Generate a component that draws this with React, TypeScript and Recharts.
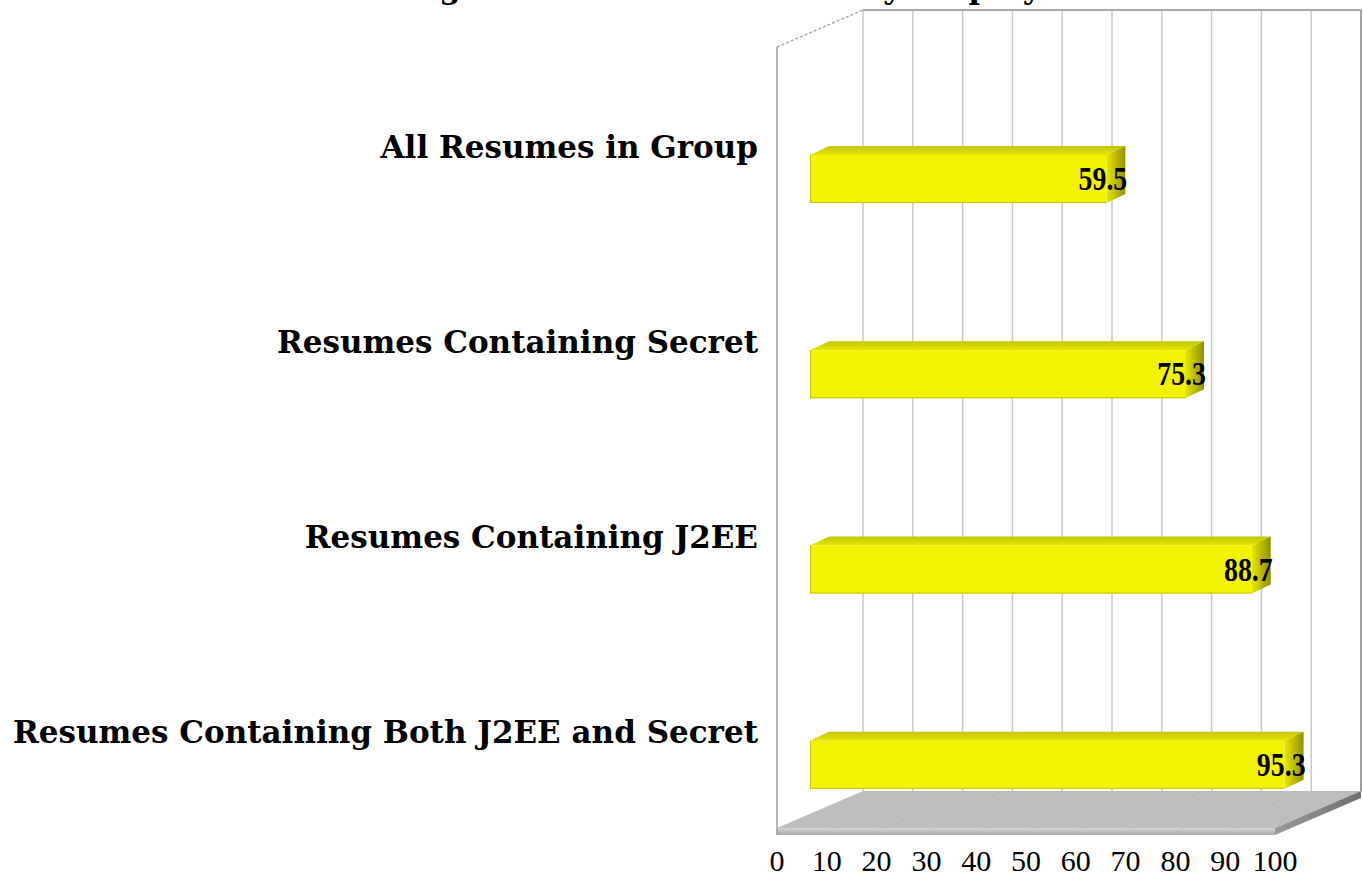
import React from 'react';
import { BarChart, Bar, XAxis, YAxis, CartesianGrid, ReferenceArea, LabelList } from 'recharts';

const title = 'Percentage of Resumes Selected by Employer';
const categories = [
  'All Resumes in Group',
  'Resumes Containing Secret',
  'Resumes Containing J2EE',
  'Resumes Containing Both J2EE and Secret',
];
const values = [59.5, 75.3, 88.7, 95.3];
const xTicks = [0, 10, 20, 30, 40, 50, 60, 70, 80, 90, 100];

const data = categories.map((name, i) => ({ name, value: values[i] }));

// 3D projection offsets (style only)
const DX = 86;
const DY = -37;
const BAR_OX = 33;
const BAR_OY = 34;
const BDX = 19;
const BDY = -9;

const SERIF = "'DejaVu Serif', 'Liberation Serif', serif";
const TIMES = "'Liberation Serif', 'DejaVu Serif', serif";

const Bar3D = (props: any) => {
  const { x, y, width, height } = props;
  if (width == null || width <= 0) return null;
  const fx = x + BAR_OX;
  const fy = y + BAR_OY;
  const w = width;
  const h = height;
  const top = `${fx},${fy} ${fx + BDX},${fy + BDY} ${fx + w + BDX},${fy + BDY} ${fx + w},${fy}`;
  const side = `${fx + w},${fy} ${fx + w + BDX},${fy + BDY} ${fx + w + BDX},${fy + h + BDY} ${fx + w},${fy + h}`;
  return (
    <g>
      <polygon points={top} fill="url(#barTop)" />
      <polygon points={side} fill="url(#barSide)" />
      <rect x={fx} y={fy} width={w} height={h} fill="#f3f300" />
      <line x1={fx + 0.5} y1={fy} x2={fx + 0.5} y2={fy + h} stroke="#c8c800" strokeWidth={1} />
      <line x1={fx} y1={fy + h - 0.5} x2={fx + w} y2={fy + h - 0.5} stroke="#c2c200" strokeWidth={1} />
    </g>
  );
};

const ValueLabel = (props: any) => {
  const { x, y, width, height, value } = props;
  const tx = x + BAR_OX + width + BDX + 2;
  const ty = y + BAR_OY + height / 2 + 11;
  return (
    <text
      transform={`translate(${tx},${ty}) scale(0.82,1)`}
      x={0}
      y={0}
      textAnchor="end"
      fontFamily={TIMES}
      fontWeight="bold"
      fontSize={34}
      fill="#000"
    >
      {value}
    </text>
  );
};

const CatTick = (props: any) => {
  const { x, y, payload } = props;
  return (
    <text
      x={x}
      y={y + 13}
      textAnchor="end"
      fontFamily={SERIF}
      fontWeight="bold"
      fontSize={31}
      fill="#000"
    >
      {payload.value}
    </text>
  );
};

const NumTick = (props: any) => {
  const { x, y, payload } = props;
  return (
    <text
      x={x}
      y={y + 43}
      textAnchor="middle"
      fontFamily={TIMES}
      fontSize={30}
      fill="#000"
    >
      {payload.value}
    </text>
  );
};

const GridLine = (props: any) => {
  const { x1, y1, x2, y2 } = props;
  return (
    <line x1={x1 + DX} y1={y1 + DY} x2={x2 + DX} y2={y2 + DY} stroke="#c8c8c8" strokeWidth={1.5} />
  );
};

const Frame = (props: any) => {
  const { x, y, width, height } = props;
  const bx = x + DX;
  const by = y + DY;
  const fb = y + height; // front bottom
  const t = 7; // floor thickness
  return (
    <g>
      {/* floor top */}
      <polygon
        points={`${x},${fb} ${x + width},${fb} ${x + width + DX},${fb + DY} ${bx},${fb + DY}`}
        fill="#bdbdbd"
      />
      {xTicks.slice(1, -1).map((tk) => {
        const px = x + (tk / 100) * width;
        return (
          <line
            key={tk}
            x1={px}
            y1={fb}
            x2={px + DX}
            y2={fb + DY}
            stroke="#c9c9c9"
            strokeWidth={1}
            strokeDasharray="4 3"
          />
        );
      })}
      {/* floor front thickness */}
      <rect x={x} y={fb} width={width} height={t} fill="url(#floorFront)" />
      {/* floor right thickness */}
      <polygon
        points={`${x + width},${fb} ${x + width + DX},${fb + DY} ${x + width + DX},${fb + DY + t} ${x + width},${fb + t}`}
        fill="url(#floorSide)"
      />
      {/* left front edge */}
      <line x1={x} y1={y} x2={x} y2={fb + t} stroke="#9a9a9a" strokeWidth={1.5} />
      {/* top-left dashed diagonal */}
      <line x1={x} y1={y} x2={bx} y2={by} stroke="#a8a8a8" strokeWidth={1.5} strokeDasharray="3 2" />
      {/* back wall top */}
      <line x1={bx} y1={by} x2={bx + width} y2={by} stroke="#a8a8a8" strokeWidth={2} />
      {/* back wall right edge */}
      <line x1={bx + width} y1={by} x2={bx + width} y2={fb + DY} stroke="#a0a0a0" strokeWidth={2} />
    </g>
  );
};

export default function App() {
  return (
    <div style={{ position: 'absolute', left: 0, top: 0, width: 1363, height: 878, background: '#fff' }}>
      <BarChart
        width={1363}
        height={878}
        data={data}
        layout="vertical"
        margin={{ top: 47, right: 88, bottom: 0, left: 0 }}
        barSize={48}
      >
        <defs>
          <linearGradient id="barTop" x1="0" y1="0" x2="0" y2="1">
            <stop offset="0%" stopColor="#c4c400" />
            <stop offset="100%" stopColor="#e6e600" />
          </linearGradient>
          <linearGradient id="barSide" x1="0" y1="0" x2="1" y2="0">
            <stop offset="0%" stopColor="#e8e800" />
            <stop offset="100%" stopColor="#8f8f00" />
          </linearGradient>
          <linearGradient id="floorFront" x1="0" y1="0" x2="0" y2="1">
            <stop offset="0%" stopColor="#d4d4d4" />
            <stop offset="100%" stopColor="#a8a8a8" />
          </linearGradient>
          <linearGradient id="floorSide" x1="0" y1="0" x2="1" y2="0">
            <stop offset="0%" stopColor="#9a9a9a" />
            <stop offset="100%" stopColor="#6e6e6e" />
          </linearGradient>
        </defs>
        <text
          x={681}
          y={-2}
          textAnchor="middle"
          fontFamily={SERIF}
          fontWeight="bold"
          fontSize={31}
          fill="#000"
        >
          {title}
        </text>
        <ReferenceArea x1={0} x2={100} shape={Frame} ifOverflow="visible" />
        <CartesianGrid horizontal={false} vertical={GridLine} />
        <XAxis
          type="number"
          domain={[0, 100]}
          ticks={xTicks}
          interval={0}
          height={50}
          axisLine={false}
          tickLine={false}
          tickSize={0}
          tickMargin={0}
          tick={NumTick}
        />
        <YAxis
          type="category"
          dataKey="name"
          width={777}
          axisLine={false}
          tickLine={false}
          tickSize={0}
          tickMargin={19}
          tick={CatTick}
        />
        <Bar dataKey="value" shape={Bar3D} isAnimationActive={false}>
          <LabelList dataKey="value" content={ValueLabel} />
        </Bar>
      </BarChart>
    </div>
  );
}
